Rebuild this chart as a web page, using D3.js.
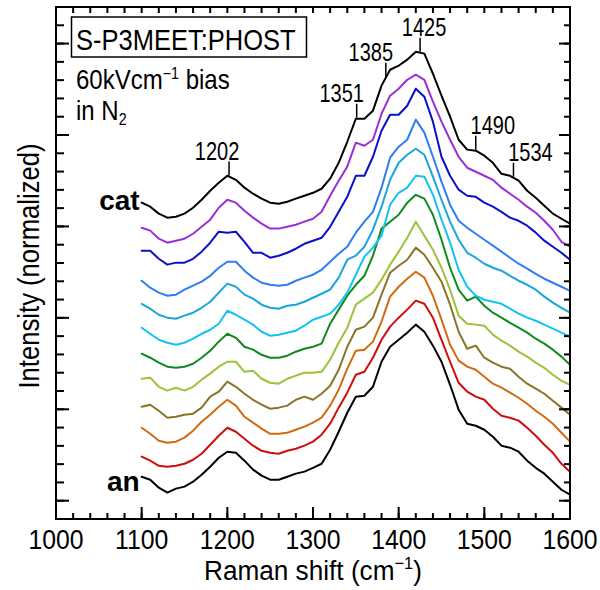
<!DOCTYPE html>
<html>
<head>
<meta charset="utf-8">
<script src="https://cdn.jsdelivr.net/npm/d3@7"></script>
<style>
  body { margin: 0; background: #fff; }
  svg { display: block; }
  text { font-family: "Liberation Sans", Arial, Helvetica, sans-serif; fill: #000; }
</style>
</head>
<body>
<svg id="chart" width="600" height="590"></svg>
<script>
// Raman shift sampling (cm^-1) shared by all spectra
const ramanShift = [1100,1110,1120,1130,1140,1150,1160,1170,1180,1190,1200,1210,1220,1230,1240,1250,1260,1270,1280,1290,1300,1310,1320,1330,1340,1350,1360,1370,1380,1390,1400,1410,1420,1430,1440,1450,1460,1470,1480,1490,1500,1510,1520,1530,1540,1550,1560,1570,1580,1590,1600];

// Stacked, normalized spectra from the cathode side (top) to the anode side (bottom)
const specCat = [1.630,1.608,1.570,1.548,1.553,1.570,1.602,1.646,1.695,1.739,1.777,1.755,1.712,1.679,1.652,1.630,1.624,1.635,1.652,1.668,1.684,1.706,1.761,1.848,1.963,2.089,2.089,2.133,2.270,2.357,2.379,2.412,2.455,2.445,2.335,2.215,2.100,1.974,1.920,1.914,1.887,1.848,1.788,1.777,1.750,1.695,1.657,1.613,1.570,1.542,1.515];
const spec01 = [1.493,1.477,1.433,1.411,1.422,1.433,1.460,1.498,1.537,1.602,1.646,1.630,1.586,1.548,1.515,1.488,1.488,1.498,1.509,1.526,1.542,1.580,1.668,1.750,1.827,1.958,1.941,1.974,2.116,2.215,2.253,2.302,2.330,2.302,2.182,2.073,1.974,1.881,1.821,1.799,1.777,1.755,1.712,1.679,1.646,1.608,1.575,1.531,1.482,1.416,1.389];
const spec02 = [1.367,1.367,1.323,1.291,1.302,1.302,1.323,1.362,1.411,1.471,1.466,1.471,1.416,1.356,1.356,1.329,1.340,1.356,1.378,1.405,1.422,1.438,1.498,1.580,1.662,1.777,1.777,1.881,2.023,2.111,2.111,2.160,2.253,2.209,2.073,1.881,1.777,1.701,1.668,1.662,1.630,1.608,1.580,1.548,1.531,1.504,1.466,1.422,1.389,1.356,1.318];
const spec03 = [1.203,1.165,1.138,1.121,1.127,1.154,1.176,1.198,1.230,1.274,1.307,1.307,1.258,1.220,1.192,1.181,1.176,1.181,1.203,1.220,1.236,1.263,1.307,1.351,1.389,1.466,1.526,1.580,1.712,1.876,1.936,1.974,2.084,2.013,1.881,1.745,1.619,1.531,1.493,1.460,1.427,1.395,1.362,1.329,1.296,1.269,1.241,1.214,1.192,1.170,1.148];
const spec04 = [1.077,1.050,1.017,1.001,0.995,1.012,1.028,1.055,1.088,1.138,1.187,1.170,1.127,1.105,1.072,1.055,1.050,1.066,1.072,1.088,1.110,1.132,1.154,1.220,1.318,1.340,1.389,1.482,1.608,1.755,1.848,1.892,1.925,1.892,1.772,1.646,1.526,1.427,1.356,1.329,1.296,1.274,1.258,1.230,1.203,1.181,1.154,1.116,1.083,1.055,1.028];
const spec05 = [0.946,0.913,0.880,0.864,0.853,0.864,0.886,0.913,0.935,0.968,1.039,1.017,0.990,0.963,0.924,0.902,0.908,0.919,0.930,0.957,0.990,1.006,1.023,1.072,1.138,1.236,1.334,1.384,1.449,1.619,1.684,1.712,1.777,1.772,1.673,1.537,1.411,1.263,1.170,1.121,1.099,1.088,1.077,1.050,1.023,1.001,0.984,0.963,0.941,0.919,0.897];
const spec06 = [0.804,0.782,0.755,0.733,0.727,0.733,0.749,0.782,0.820,0.870,0.913,0.891,0.842,0.826,0.798,0.782,0.782,0.793,0.815,0.831,0.842,0.859,0.968,1.045,1.121,1.181,1.230,1.340,1.488,1.526,1.564,1.630,1.673,1.652,1.564,1.427,1.274,1.154,1.094,1.116,1.066,1.028,1.001,0.973,0.946,0.919,0.886,0.859,0.826,0.788,0.744];
const spec07 = [0.667,0.673,0.623,0.602,0.618,0.602,0.623,0.662,0.695,0.733,0.760,0.760,0.705,0.711,0.667,0.645,0.640,0.667,0.684,0.700,0.700,0.705,0.771,0.864,0.946,1.072,1.105,1.138,1.209,1.291,1.362,1.438,1.526,1.449,1.373,1.274,1.154,1.012,0.968,0.963,0.957,0.908,0.875,0.848,0.815,0.788,0.755,0.727,0.689,0.656,0.634];
const spec08 = [0.514,0.525,0.492,0.454,0.459,0.470,0.476,0.509,0.569,0.596,0.651,0.623,0.585,0.552,0.525,0.503,0.509,0.520,0.552,0.569,0.552,0.585,0.629,0.716,0.842,0.935,0.952,1.001,1.127,1.247,1.285,1.318,1.384,1.345,1.274,1.198,1.072,0.924,0.831,0.848,0.782,0.755,0.733,0.722,0.678,0.640,0.613,0.585,0.547,0.509,0.470];
const spec09 = [0.399,0.366,0.328,0.317,0.323,0.345,0.383,0.432,0.470,0.514,0.552,0.520,0.459,0.427,0.394,0.366,0.366,0.372,0.388,0.405,0.427,0.454,0.520,0.607,0.722,0.820,0.826,0.870,0.979,1.116,1.170,1.214,1.252,1.220,1.121,0.990,0.853,0.766,0.733,0.716,0.678,0.640,0.618,0.591,0.563,0.530,0.492,0.459,0.421,0.372,0.323];
const spec10 = [0.241,0.219,0.191,0.186,0.191,0.202,0.224,0.257,0.306,0.355,0.399,0.377,0.339,0.301,0.273,0.262,0.257,0.273,0.284,0.301,0.323,0.361,0.421,0.509,0.591,0.689,0.705,0.782,0.880,0.952,1.001,1.045,1.094,1.077,1.001,0.880,0.760,0.645,0.596,0.569,0.552,0.503,0.465,0.454,0.438,0.399,0.355,0.306,0.262,0.202,0.159];
const specAn = [0.131,0.115,0.071,0.044,0.066,0.077,0.104,0.142,0.186,0.235,0.268,0.262,0.219,0.170,0.137,0.115,0.115,0.131,0.148,0.159,0.180,0.202,0.279,0.377,0.481,0.569,0.574,0.623,0.760,0.842,0.880,0.919,0.963,0.924,0.848,0.760,0.634,0.498,0.421,0.410,0.388,0.350,0.301,0.290,0.268,0.219,0.180,0.148,0.104,0.060,0.033];

const spectra = [specCat, spec01, spec02, spec03, spec04, spec05, spec06, spec07, spec08, spec09, spec10, specAn];
const traceColors = ["#000000","#9b2fd6","#0a10c6","#2f7df5","#1aa5dc","#13c2f5","#0f8a1d","#9cc23a","#8a7428","#d26a12","#d00d0d","#000000"];

// Peak assignments marked on the top spectrum
const peakPositions = [1202, 1351, 1385, 1425, 1490, 1534];
const peakLabels = ["1202", "1351", "1385", "1425", "1490", "1534"];

// Axis ticks
const xTickValues = [1000, 1100, 1200, 1300, 1400, 1500, 1600];
const xTickLabels = ["1000", "1100", "1200", "1300", "1400", "1500", "1600"];

// ---------------------------------------------------------------------------
const L = 56, R = 570, T = 7, B = 519;
const svg = d3.select("#chart");

const x = d3.scaleLinear().domain([1000, 1600]).range([L, R]);
const y = d3.scaleLinear().domain([-0.1, 2.7]).range([B, T]);

const xMinor = d3.range(0, 31).map(i => 1000 + i * 20);
const yMinor = d3.range(0, 27).map(i => i / 10);
const yMajor = [0, 0.5, 1.0, 1.5, 2.0, 2.5];

function cleanAxis(sel) {
  sel.select(".domain").remove();
  sel.selectAll(".tick line").attr("stroke", "#000").attr("stroke-width", 2);
}

// spectra
const line = d3.line()
  .x((d, i) => x(ramanShift[i]))
  .y(d => y(d));

const traces = svg.append("g").attr("fill", "none")
  .attr("stroke-width", 2).attr("stroke-linejoin", "round").attr("stroke-linecap", "round");
spectra.slice().reverse().forEach((s, k) => {
  const idx = spectra.length - 1 - k;
  traces.append("path").attr("d", line(s)).attr("stroke", traceColors[idx]);
});

// ticks on all four sides, pointing inward
svg.append("g").attr("transform", `translate(0,${B})`)
  .call(d3.axisBottom(x).tickValues(xMinor).tickSize(-6).tickFormat("").offset(0)).call(cleanAxis);
const xAxis = svg.append("g").attr("transform", `translate(0,${B})`)
  .call(d3.axisBottom(x).tickValues(xTickValues).tickSize(-12).offset(0)
    .tickFormat((d, i) => xTickLabels[i]))
  .call(cleanAxis);
xAxis.selectAll(".tick text")
  .attr("y", 30).attr("dy", null)
  .attr("font-size", 27.5).attr("font-family", "Liberation Sans, Arial, sans-serif")
  .attr("fill", "#000").attr("transform", "scale(0.9,1)");

svg.append("g").attr("transform", `translate(0,${T})`)
  .call(d3.axisTop(x).tickValues(xMinor).tickSize(-6).tickFormat("").offset(0)).call(cleanAxis);

svg.append("g").attr("transform", `translate(${L},0)`)
  .call(d3.axisLeft(y).tickValues(yMinor).tickSize(-8).tickFormat("").offset(0)).call(cleanAxis);
svg.append("g").attr("transform", `translate(${L},0)`)
  .call(d3.axisLeft(y).tickValues(yMajor).tickSize(-13).tickFormat("").offset(0)).call(cleanAxis);
svg.append("g").attr("transform", `translate(${R},0)`)
  .call(d3.axisRight(y).tickValues(yMinor).tickSize(-6).tickFormat("").offset(0)).call(cleanAxis);
svg.append("g").attr("transform", `translate(${R},0)`)
  .call(d3.axisRight(y).tickValues(yMajor).tickSize(-11).tickFormat("").offset(0)).call(cleanAxis);

// plot frame
svg.append("rect").attr("x", L).attr("y", T).attr("width", R - L).attr("height", B - T)
  .attr("fill", "none").attr("stroke", "#000").attr("stroke-width", 2);

// text helper: narrow sans text placed at (px, py)
function narrowText(px, py, size, sx, anchor, rot) {
  const tr = `translate(${px},${py})` + (rot ? ` rotate(${rot})` : "") + ` scale(${sx},1)`;
  return svg.append("text").attr("transform", tr).attr("font-size", size).attr("text-anchor", anchor || "start");
}

// axis titles
const xt = narrowText((L + R) / 2, 580, 27, 0.97, "middle");
xt.append("tspan").text("Raman shift (cm");
xt.append("tspan").attr("font-size", 17).attr("dy", -11).text("\u22121");
xt.append("tspan").attr("dy", 11).text(")");

narrowText(39, 266, 30, 0.855, "middle", -90).text("Intensity (normalized)");

// sample / condition annotation
svg.append("rect").attr("x", 71.5).attr("y", 17).attr("width", 235).attr("height", 40)
  .attr("fill", "#fff").attr("stroke", "#000").attr("stroke-width", 1.5);
narrowText(76, 50, 30, 0.85, "start").text("S-P3MEET:PHOST");

const bias = narrowText(76, 89, 27, 0.89, "start");
bias.append("tspan").text("60kVcm");
bias.append("tspan").attr("font-size", 16).attr("dy", -10).text("\u22121");
bias.append("tspan").attr("dy", 10).text(" bias");

const gas = narrowText(76, 119.5, 27, 0.89, "start");
gas.append("tspan").text("in N");
gas.append("tspan").attr("font-size", 16).attr("dy", 5).text("2");

// electrode-side labels
svg.append("text").attr("x", x(1100) - 2).attr("y", y(specCat[0]) + 7)
  .attr("text-anchor", "end").attr("font-size", 28).attr("font-weight", "bold").text("cat");
svg.append("text").attr("x", x(1100) - 2).attr("y", y(specAn[0]) + 14)
  .attr("text-anchor", "end").attr("font-size", 28).attr("font-weight", "bold").text("an");

// peak markers on the top spectrum
function catAt(v) {
  const i = d3.bisectLeft(ramanShift, v);
  if (ramanShift[i] === v) return specCat[i];
  const t = (v - ramanShift[i - 1]) / (ramanShift[i] - ramanShift[i - 1]);
  return specCat[i - 1] + t * (specCat[i] - specCat[i - 1]);
}
const labelShift = [-12, -15, -15, 4, 17, 17];
peakPositions.forEach((p, i) => {
  const px = x(p);
  const yb = y(catAt(p)) - 1;
  svg.append("line").attr("x1", px).attr("x2", px).attr("y1", yb).attr("y2", yb - 14)
    .attr("stroke", "#000").attr("stroke-width", 1.5);
  narrowText(px + labelShift[i], yb - 16, 25, 0.8, "middle").text(peakLabels[i]);
});
</script>
</body>
</html>
